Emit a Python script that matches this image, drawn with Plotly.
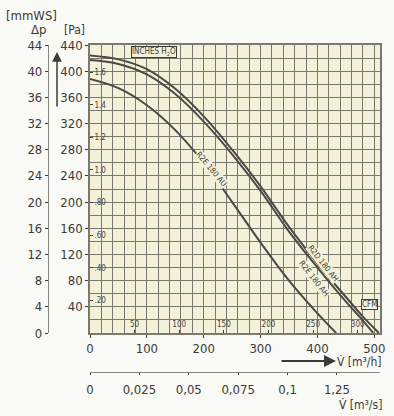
import plotly.graph_objects as go

W, H = 394, 416
# plot area in pixels
PX0, PX1, PY0, PY1 = 90, 380, 45, 333

# ---- data ----
q_r2d_ah = [0, 50, 100, 150, 200, 250, 300, 350, 400, 450, 480, 508]
p_r2d_ah = [424, 418, 403, 373, 331, 280, 224, 162, 106, 55, 25, 0]
q_r2e_ah = [0, 50, 100, 150, 200, 250, 300, 350, 400, 450, 480, 498]
p_r2e_ah = [417, 411, 395, 365, 323, 273, 217, 155, 100, 48, 19, 0]
q_r2e_au = [0, 50, 100, 150, 200, 250, 300, 350, 400, 433]
p_r2e_au = [388, 374, 348, 310, 260, 200, 138, 80, 30, 0]

x_ticks_m3h = [0, 100, 200, 300, 400, 500]
y_ticks_pa = [40, 80, 120, 160, 200, 240, 280, 320, 360, 400, 440]
y_ticks_mmws = [0, 4, 8, 12, 16, 20, 24, 28, 32, 36, 40, 44]
inch_vals = [0.2, 0.4, 0.6, 0.8, 1.0, 1.2, 1.4, 1.6]
inch_text = [".20", ".40", ".60", ".80", "1.0", "1.2", "1.4", "1.6"]
cfm_vals = [50, 100, 150, 200, 250, 300]
m3s_vals = [0, 0.025, 0.05, 0.075, 0.1, 0.125]
m3s_text = ["0", "0,025", "0,05", "0,075", "0,1", "1,25"]


def fx(px):
    return px / W


def fy(py):
    return 1 - py / H


FONT = "DejaVu Sans Condensed"
INK = "#3b3b38"
GRID = "#7b786d"
PLOTBG = "#f4f1da"

fig = go.Figure()
for q, p in [(q_r2d_ah, p_r2d_ah), (q_r2e_ah, p_r2e_ah), (q_r2e_au, p_r2e_au)]:
    fig.add_trace(go.Scatter(x=q, y=p, mode="lines",
                             line=dict(color="#4a4946", width=2, shape="spline", smoothing=1.0),
                             hoverinfo="skip", showlegend=False))

xdom = [fx(PX0), fx(PX1)]
ydom = [fy(PY1), fy(PY0)]

fig.update_layout(
    width=W, height=H, margin=dict(l=0, r=0, t=0, b=0, pad=0, autoexpand=False),
    paper_bgcolor="#f9f9f6", plot_bgcolor=PLOTBG,
    font=dict(family=FONT, color=INK, size=13),
    showlegend=False,
    xaxis=dict(domain=xdom, range=[0, 510], tickvals=x_ticks_m3h, showgrid=True, gridcolor=GRID, gridwidth=1.3,
               minor=dict(dtick=20, tick0=0, showgrid=True, gridcolor=GRID, gridwidth=1.3),
               ticks="outside", ticklen=3, tickcolor=INK, showline=True, linecolor=GRID, linewidth=1.5, mirror=True,
               zeroline=False, tickfont=dict(size=13), ticklabelstandoff=0, automargin=False, fixedrange=True),
    yaxis=dict(domain=ydom, range=[0, 440], tickvals=y_ticks_pa, showgrid=True, gridcolor=GRID, gridwidth=1.3,
               minor=dict(dtick=20, tick0=0, showgrid=True, gridcolor=GRID, gridwidth=1.3),
               ticks="outside", ticklen=3, tickcolor=INK, showline=True, linecolor=GRID, linewidth=1.5, mirror=True,
               zeroline=False, tickfont=dict(size=13), automargin=False, fixedrange=True),
    xaxis2=dict(overlaying="x", anchor="y", side="bottom", range=[0, 325], tickvals=cfm_vals,
                ticklabelposition="inside", ticks="inside", ticklen=3, tickcolor=INK, showgrid=False,
                zeroline=False, showline=False, tickfont=dict(size=8), automargin=False, fixedrange=True),
    yaxis2=dict(overlaying="y", anchor="x", side="left", range=[0, 440 / 249.089], tickvals=inch_vals,
                ticktext=inch_text, ticklabelposition="inside", ticks="inside", ticklen=3, tickcolor=INK,
                showgrid=False, zeroline=False, showline=False, tickfont=dict(size=8), automargin=False,
                fixedrange=True),
    yaxis3=dict(overlaying="y", anchor="free", position=fx(48), side="left", range=[0, 44],
                tickvals=y_ticks_mmws, ticks="outside", ticklen=3, tickcolor=INK, showline=True,
                linecolor="#8a8780", linewidth=1.2, showgrid=False, zeroline=False,
                tickfont=dict(size=13), automargin=False, fixedrange=True),
    xaxis3=dict(overlaying="x", anchor="free", position=fy(372), side="bottom", range=[0, 0.1468],
                tickvals=m3s_vals, ticktext=m3s_text, ticks="outside", ticklen=2, tickcolor=INK,
                showline=True, linecolor="#8a8780", linewidth=1.2, showgrid=False, zeroline=False,
                tickfont=dict(size=13), ticklabelstandoff=3, automargin=False, fixedrange=True),
)

# dummy traces to activate the extra axes
fig.add_trace(go.Scatter(x=[None], y=[None], xaxis="x2", yaxis="y2", showlegend=False))
fig.add_trace(go.Scatter(x=[None], y=[None], xaxis="x3", yaxis="y3", showlegend=False))


def label(px, py, text, size=13, xanchor="center", **kw):
    return dict(x=fx(px), y=fy(py), xref="paper", yref="paper", text=text, showarrow=False,
                xanchor=xanchor, yanchor="middle", font=dict(size=size), **kw)


ann = []
# titles
ann.append(label(32, 16, "[mmWS]"))
ann.append(label(38, 30, "Δp"))
ann.append(label(74, 30, "[Pa]", size=12))
# up arrow
ann.append(dict(x=fx(57), y=fy(52), ax=0, ay=56, xref="paper", yref="paper",
                text="", showarrow=True, arrowhead=2, arrowsize=1.3, arrowwidth=1.5, arrowcolor=INK))
# V m3/h arrow
ann.append(dict(x=fx(336), y=fy(361), ax=-56, ay=0, xref="paper", yref="paper",
                text="", showarrow=True, arrowhead=2, arrowsize=1.2, arrowwidth=2, arrowcolor=INK))
ann.append(label(384, 362, "V̇ [m³/h]", size=12, xanchor="right"))
ann.append(label(384, 405, "V̇ [m³/s]", size=12, xanchor="right"))
# boxes
ann.append(label(131, 52, "INCHES H<sub>2</sub>O", size=8, xanchor="left",
                 bgcolor=PLOTBG, bordercolor=INK, borderwidth=1, borderpad=0))
ann.append(label(378, 304, "CFM", size=8, xanchor="right",
                 bgcolor=PLOTBG, bordercolor=INK, borderwidth=1, borderpad=0))
# curve labels
ann.append(dict(x=214, y=250, xref="x", yref="y", text="R2E 180 AU", textangle=50, showarrow=False,
                xanchor="center", yanchor="middle", font=dict(size=8), bgcolor=PLOTBG, borderpad=0))
ann.append(dict(x=410, y=106, xref="x", yref="y", text="R2D 180 AH", textangle=52, showarrow=False,
                xanchor="center", yanchor="middle", font=dict(size=8), bgcolor=PLOTBG, borderpad=0))
ann.append(dict(x=394, y=84, xref="x", yref="y", text="R2E 180 AH", textangle=52, showarrow=False,
                xanchor="center", yanchor="middle", font=dict(size=8), bgcolor=PLOTBG, borderpad=0))
fig.update_layout(annotations=ann)

fig.write_html("out.html", config={"displayModeBar": False},
               post_script="document.body.style.margin='0px';document.body.style.overflow='hidden';")
